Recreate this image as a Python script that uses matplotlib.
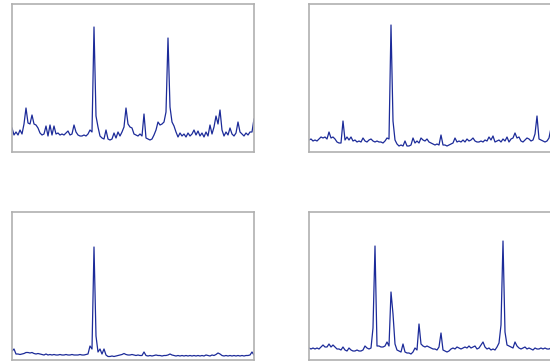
import matplotlib
matplotlib.use("Agg")
import matplotlib.pyplot as plt

# valori (altezza sopra il bordo inferiore)
serie_a = [24, 17, 20, 17, 22, 18, 28, 44, 29, 28, 37, 28, 27, 24, 19, 17, 18, 26, 16, 27,
           17, 26, 18, 19, 17, 18, 17, 19, 21, 17, 18, 27, 20, 17, 16, 16, 17, 16, 18, 22,
           20, 125, 36, 25, 16, 14, 13, 22, 13, 12, 13, 19, 14, 20, 16, 20, 25, 44, 28, 25,
           24, 18, 17, 16, 18, 16, 38, 14, 13, 12, 13, 17, 22, 30, 27, 28, 30, 40, 114, 45,
           30, 26, 20, 15, 19, 16, 18, 15, 19, 16, 18, 22, 17, 21, 16, 19, 15, 20, 16, 27,
           18, 25, 36, 28, 42, 22, 16, 20, 17, 24, 18, 16, 19, 30, 20, 18, 16, 19, 17, 20,
           20, 33]

serie_b = [12, 13, 11, 12, 11, 13, 15, 14, 15, 13, 20, 14, 15, 13, 10, 9, 9, 31, 12, 15,
           12, 15, 11, 12, 10, 11, 10, 14, 11, 10, 12, 13, 11, 10, 11, 10, 10, 9, 11, 14,
           13, 127, 31, 12, 8, 6, 7, 6, 11, 6, 6, 7, 14, 9, 11, 9, 14, 12, 11, 13,
           10, 9, 8, 7, 8, 7, 17, 7, 7, 6, 7, 8, 9, 14, 10, 11, 10, 12, 10, 13,
           11, 12, 14, 11, 10, 10, 11, 10, 12, 11, 15, 12, 16, 10, 11, 12, 10, 13, 11, 15,
           10, 13, 14, 19, 14, 15, 11, 10, 12, 14, 13, 11, 12, 18, 36, 13, 12, 11, 10, 11,
           14, 24]

serie_c = [9, 11, 6, 6, 5.5, 6, 6.5, 7.5, 7.5, 7, 7.5, 6.5, 6, 6.5, 6, 5.5, 5, 6, 5, 5.5,
           5, 5.5, 5, 5, 5.5, 5, 5, 5.5, 5, 5, 5.5, 5, 5, 5, 5.5, 5, 5, 5.5, 6, 14,
           11, 113, 24, 8, 11, 6, 11, 5, 3.5, 3.5, 4, 3.5, 4, 4.5, 5, 5.5, 6.5, 5.5, 5, 5,
           5.5, 5, 4.5, 5, 4.5, 4.5, 8, 4.5, 4, 4.5, 4, 4.5, 5, 4.5, 4.5, 4, 4.5, 4.5, 5, 6,
           5, 4.5, 4, 4.5, 4, 4.5, 4, 4.5, 4, 4.5, 4, 4.5, 4, 4.5, 4, 4.5, 4, 5, 4.5, 4,
           5, 4.5, 5.5, 7, 6, 4.5, 4, 4.5, 4, 4.5, 4, 4.5, 4, 4.5, 4, 4.5, 4, 4.5, 4.5, 5,
           8, 5]

serie_d = [12, 11, 12, 11, 12, 11, 13, 15, 13, 13, 16, 13, 15, 13, 11, 11, 10, 13, 10, 9,
           12, 10, 9, 9, 10, 9, 9, 10, 14, 12, 11, 12, 32, 114, 14, 14, 13, 13, 14, 18,
           14, 68, 46, 16, 10, 9, 8, 16, 8, 7, 7, 6, 8, 12, 10, 36, 16, 14, 13, 14,
           13, 12, 11, 11, 10, 13, 27, 10, 9, 8, 9, 11, 12, 11, 13, 12, 11, 12, 13, 12,
           14, 12, 13, 14, 11, 12, 15, 18, 13, 11, 12, 10, 11, 10, 13, 17, 35, 119, 28, 15,
           14, 13, 12, 18, 14, 12, 11, 12, 13, 11, 12, 11, 10, 12, 11, 11, 12, 11, 12, 11,
           11, 12]

colore = "#1c2b99"

fig = plt.figure(figsize=(5.5, 3.62), dpi=100)

posizioni = [
    [12 / 550, 210 / 362, 242 / 550, 148 / 362],
    [309 / 550, 210 / 362, 242 / 550, 148 / 362],
    [12 / 550, 2 / 362, 242 / 550, 148 / 362],
    [309 / 550, 2 / 362, 242 / 550, 148 / 362],
]

for pos, serie in zip(posizioni, [serie_a, serie_b, serie_c, serie_d]):
    ax = fig.add_axes(pos)
    ax.plot(range(len(serie)), serie, color=colore, linewidth=0.9)
    ax.set_xlim(0, len(serie) - 1)
    ax.set_ylim(0, 148)
    ax.set_xticks([])
    ax.set_yticks([])
    for s in ax.spines.values():
        s.set_color("#b0b0b0")
        s.set_linewidth(1.2)

fig.savefig("out.png", dpi=100)
